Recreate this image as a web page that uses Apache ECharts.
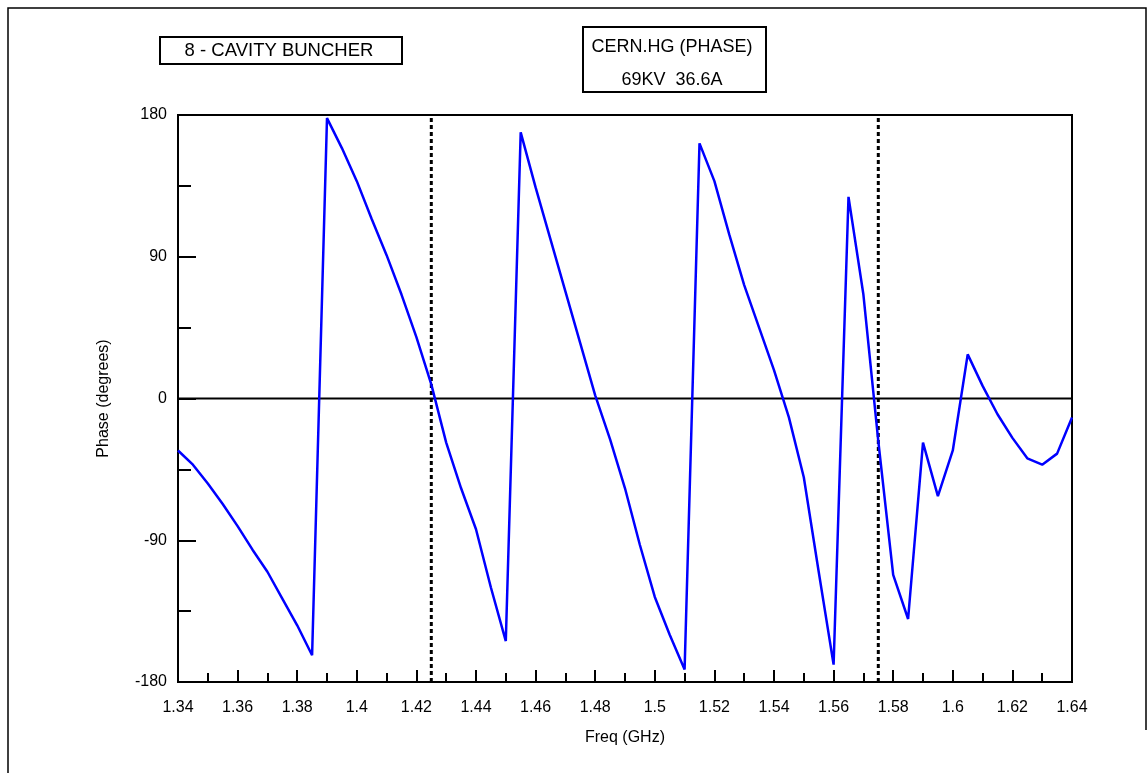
<!DOCTYPE html>
<html>
<head>
<meta charset="utf-8">
<script src="https://cdn.jsdelivr.net/npm/echarts@6/dist/echarts.min.js"></script>
<style>
html,body{margin:0;padding:0;background:#fff;}
#chart{width:1148px;height:773px;}
</style>
</head>
<body>
<div id="chart"></div>
<script>
// ---- data ----
const freq = [1.34,1.345,1.35,1.355,1.36,1.365,1.37,1.375,1.38,1.385,
  1.39,1.395,1.40,1.405,1.41,1.415,1.42,1.425,1.43,1.435,
  1.44,1.445,1.45,1.455,1.46,1.465,1.47,1.475,1.48,1.485,
  1.49,1.495,1.50,1.505,1.51,1.515,1.52,1.525,1.53,1.535,
  1.54,1.545,1.55,1.555,1.56,1.565,1.57,1.575,1.58,1.585,
  1.59,1.595,1.60,1.605,1.61,1.615,1.62,1.625,1.63,1.635,1.64];
const phase = [-33,-42,-54,-67,-81,-96,-110,-127,-144,-163,
  178,159,138,114,91,66,39,9,-28,-57,
  -83,-120,-154,169,134,101,68,35,2,-26,
  -57,-93,-126,-150,-172,162,138,104,72,45,
  18,-12,-50,-110,-169,128,66,-27,-112,-140,
  -28,-62,-33,28,8,-10,-25,-38,-42,-35,-12];
const markerFreqs = [1.425, 1.575];
const zeroLevel = 0;
const xRange = [1.34, 1.64];
const yRange = [-180, 180];
const titleLeft = "8 - CAVITY BUNCHER";
const titleRight = ["CERN.HG (PHASE)", "69KV  36.6A"];
const xName = "Freq (GHz)";
const yName = "Phase (degrees)";

const points = freq.map((f, i) => [f, phase[i]]);
const FONT = "'Liberation Sans', Arial, sans-serif";

const markerSeries = markerFreqs.map(f => ({
  type: 'line', data: [[f, yRange[0]], [f, yRange[1]]], symbol: 'none', silent: true,
  lineStyle: {color: '#000', width: 3, type: [4, 3]}, z: 2
}));

const chart = echarts.init(document.getElementById('chart'), null, {renderer: 'canvas'});
chart.setOption({
  backgroundColor: '#ffffff',
  animation: false,
  grid: {left: 178, right: 76, top: 115, bottom: 91, show: true, borderColor: '#000', borderWidth: 2, backgroundColor: 'transparent'},
  xAxis: {
    type: 'value', min: xRange[0], max: xRange[1], interval: 0.02,
    name: xName, nameLocation: 'middle', nameGap: 48,
    nameTextStyle: {fontFamily: FONT, fontSize: 16, color: '#000'},
    axisLine: {show: true, onZero: false, lineStyle: {color: '#000', width: 2}},
    axisTick: {show: true, inside: true, length: 12, lineStyle: {color: '#000', width: 2}},
    minorTick: {show: true, splitNumber: 2, length: 9, lineStyle: {color: '#000', width: 2}},
    axisLabel: {margin: 18, fontFamily: FONT, fontSize: 16, color: '#000', showMinLabel: true, showMaxLabel: true,
      formatter: v => String(+v.toFixed(2))},
    splitLine: {show: false}
  },
  yAxis: {
    type: 'value', min: yRange[0], max: yRange[1], interval: 90,
    name: yName, nameLocation: 'middle', nameGap: 66, nameRotate: 90,
    nameTextStyle: {fontFamily: FONT, fontSize: 16, color: '#000'},
    axisLine: {show: true, onZero: false, lineStyle: {color: '#000', width: 2}},
    axisTick: {show: true, inside: true, length: 18, lineStyle: {color: '#000', width: 2}},
    minorTick: {show: true, splitNumber: 2, length: 13, lineStyle: {color: '#000', width: 2}},
    axisLabel: {margin: 11, fontFamily: FONT, fontSize: 16, color: '#000'},
    splitLine: {show: false}
  },
  series: [
    {
      type: 'line', data: [[xRange[0], zeroLevel], [xRange[1], zeroLevel]], symbol: 'none', silent: true,
      lineStyle: {color: '#000', width: 2}, z: 2
    },
    ...markerSeries,
    {
      type: 'line', data: points, showSymbol: false, symbol: 'none',
      lineStyle: {color: '#0000ff', width: 2.5}, z: 3
    }
  ],
  graphic: [
    {type: 'polyline', shape: {points: [[8, 773], [8, 8], [1146, 8], [1146, 730]]}, style: {stroke: '#000', lineWidth: 1.5, fill: null}, silent: true},
    {type: 'rect', shape: {x: 160, y: 37, width: 242, height: 27}, style: {stroke: '#000', lineWidth: 2, fill: '#fff'}, silent: true},
    {type: 'text', x: 279, y: 51, style: {text: titleLeft, font: '18.5px ' + FONT, fill: '#000', align: 'center', verticalAlign: 'middle'}, silent: true},
    {type: 'rect', shape: {x: 583, y: 27, width: 183, height: 65}, style: {stroke: '#000', lineWidth: 2, fill: '#fff'}, silent: true},
    {type: 'text', x: 672, y: 47, style: {text: titleRight[0], font: '18px ' + FONT, fill: '#000', align: 'center', verticalAlign: 'middle'}, silent: true},
    {type: 'text', x: 672, y: 80, style: {text: titleRight[1], font: '18px ' + FONT, fill: '#000', align: 'center', verticalAlign: 'middle'}, silent: true}
  ]
});
</script>
</body>
</html>
